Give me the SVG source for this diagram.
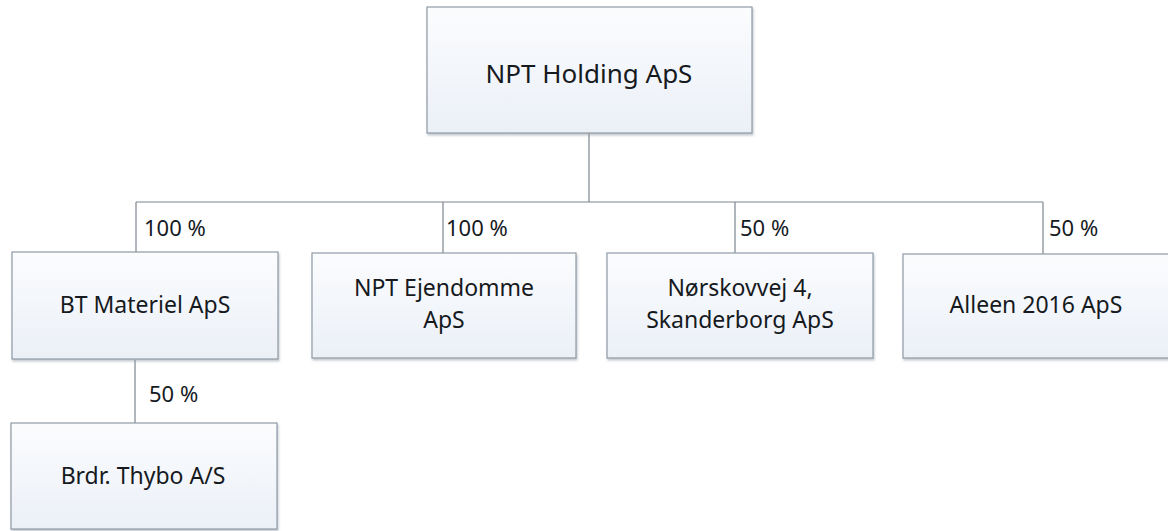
<svg xmlns="http://www.w3.org/2000/svg" width="1168" height="531" viewBox="0 0 1168 531">
<defs>
<linearGradient id="g" x1="0" y1="0" x2="0" y2="1">
<stop offset="0" stop-color="#fbfcfe"/>
<stop offset="1" stop-color="#ebf0f7"/>
</linearGradient>
<filter id="sh" x="-5%" y="-5%" width="110%" height="115%">
<feDropShadow dx="1" dy="2" stdDeviation="1.2" flood-color="#8a96a3" flood-opacity="0.5"/>
</filter>
</defs>
<style>
.box{fill:url(#g);stroke:#8f9aa6;stroke-width:1.2;filter:url(#sh)}
.t{font-family:"Noto Sans","Open Sans",sans-serif;font-size:23px;fill:#161a1e;text-anchor:middle}
.big{font-size:26px}
.p{font-family:"Noto Sans","Open Sans",sans-serif;font-size:22px;fill:#161a1e}
.c{stroke:#7c868f;stroke-width:1.2;fill:none}
</style>
<rect width="1168" height="531" fill="#ffffff"/>
<g id="connectors">
<path class="c" d="M589 133 V202 M136 202 H1043 M136 202 V252 M443 202 V253 M735 202 V253 M1043 202 V254 M135 360 V423"/>
<text class="p" x="144" y="236">100 %</text>
<text class="p" x="446" y="236">100 %</text>
<text class="p" x="740" y="236">50 %</text>
<text class="p" x="1049" y="236">50 %</text>
<text class="p" x="149" y="402">50 %</text>
</g>
<g id="npt-holding">
<rect class="box" x="427" y="7" width="325" height="126"/>
<text class="t big" x="589" y="83">NPT Holding ApS</text>
</g>
<g id="bt-materiel">
<rect class="box" x="12" y="252" width="266" height="107"/>
<text class="t" x="145" y="313">BT Materiel ApS</text>
</g>
<g id="npt-ejendomme">
<rect class="box" x="312" y="253" width="264" height="105"/>
<text class="t" x="444" y="296">NPT Ejendomme</text>
<text class="t" x="444" y="328">ApS</text>
</g>
<g id="norskovvej">
<rect class="box" x="607" y="253" width="266" height="105"/>
<text class="t" x="740" y="296">Nørskovvej 4,</text>
<text class="t" x="740" y="328">Skanderborg ApS</text>
</g>
<g id="alleen">
<rect class="box" x="903" y="254" width="268" height="104"/>
<text class="t" x="1036" y="313">Alleen 2016 ApS</text>
</g>
<g id="brdr-thybo">
<rect class="box" x="11" y="423" width="266" height="106"/>
<text class="t" x="143" y="484">Brdr. Thybo A/S</text>
</g>
</svg>
